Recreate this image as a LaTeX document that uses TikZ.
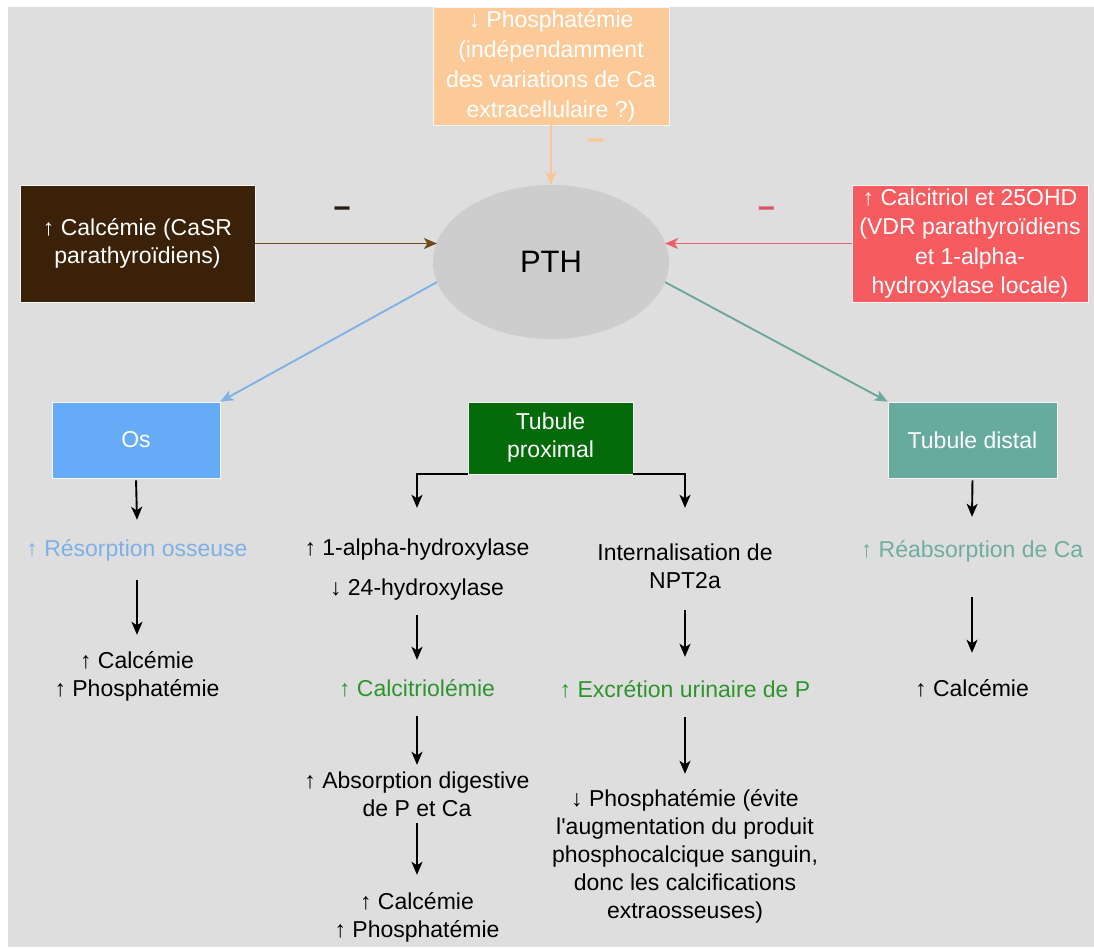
\documentclass[tikz,border=0pt]{standalone}
\usepackage{fontspec}
\setmainfont{Liberation Sans}
\usetikzlibrary{arrows.meta,shapes.geometric}
\definecolor{bg}{HTML}{DEDEDE}
\definecolor{pthfill}{HTML}{CDCDCD}
\definecolor{brownfill}{HTML}{3A2108}
\definecolor{brownline}{HTML}{6E4A1C}
\definecolor{minusdark}{HTML}{2A1A0A}
\definecolor{redfill}{HTML}{F65C5F}
\definecolor{redline}{HTML}{F0626A}
\definecolor{redminus}{HTML}{D9536A}
\definecolor{orangefill}{HTML}{FCCA98}
\definecolor{orangeline}{HTML}{F8C794}
\definecolor{osfill}{HTML}{66ABF8}
\definecolor{blueline}{HTML}{7FB3E6}
\definecolor{bluetext}{HTML}{7DB1E6}
\definecolor{proxfill}{HTML}{056B0A}
\definecolor{greentext}{HTML}{2E952E}
\definecolor{distfill}{HTML}{67AB9F}
\definecolor{tealline}{HTML}{6AA89C}
\definecolor{tealtext}{HTML}{6FAE9F}
\begin{document}
\begin{tikzpicture}[x=1pt,y=-1pt,
  every node/.style={font=\fontsize{23}{28}\selectfont, align=center, inner sep=0pt},
  box/.style={draw=white!92!gray, line width=0.8pt, text=white},
  lbl/.style={text=black},
  minus/.style={font=\fontsize{30}{30}\selectfont\bfseries},
  arr/.style={line width=1.9pt, -{Stealth[length=13pt,width=11pt,inset=3.5pt]}}]

% canvas
\fill[white] (0,0) rectangle (1094,947);
\fill[bg] (8,7) rectangle (1094,947);
\useasboundingbox (0,0) rectangle (1094,947);

% central hormone and its regulators
\node[ellipse, fill=pthfill, minimum width=236pt, minimum height=154pt,
      font=\fontsize{31}{36}\selectfont] (pth) at (551,262) {PTH};
\node[box, fill=orangefill, minimum width=236pt, minimum height=118pt,
      font=\fontsize{23}{30}\selectfont] (phos) at (551,66)
  {↓ Phosphatémie\\(indépendamment\\des variations de Ca\\extracellulaire ?)};
\node[box, fill=brownfill, minimum width=235pt, minimum height=117pt] (hyca) at (137.5,243.5)
  {↑ Calcémie (CaSR\\parathyroïdiens)};
\node[box, fill=redfill, minimum width=236pt, minimum height=117pt,
      font=\fontsize{23}{29.5}\selectfont] (calr) at (970,243.5)
  {↑ Calcitriol et 25OHD\\(VDR parathyroïdiens\\et 1-alpha-\\hydroxylase locale)};

% target organs
\node[box, fill=osfill, minimum width=168pt, minimum height=76pt] (os) at (136,440) {Os};
\node[box, fill=proxfill, minimum width=165pt, minimum height=72pt] (prox) at (550.5,438) {Tubule\\proximal};
\node[box, fill=distfill, minimum width=169pt, minimum height=76pt] (dist) at (972.5,440) {Tubule distal};

% negative feedback onto PTH
\draw[arr, color=orangeline] (phos.south) --
  node[minus, xshift=45pt, yshift=10pt, text=orangeline] (m1) {−} (pth.north);
\draw[arr, color=brownline] (hyca.east) --
  node[minus, xshift=-4pt, yshift=31pt, text=minusdark] (m2) {−} (hyca.east -| pth.170);
\draw[arr, color=redline] (calr.west) --
  node[minus, xshift=8pt, yshift=31pt, text=redminus] (m3) {−} (calr.west -| pth.10);

% PTH actions
\draw[arr, color=blueline] (pth.190) -- (os.north east);
\draw[arr, color=tealline] (pth.350) -- (dist.north west);

% bone
\node[lbl, minimum height=60pt, text=bluetext] (r1) at (137,550) {↑ Résorption osseuse};
\node[lbl, minimum height=82pt] (r2) at (137,676) {↑ Calcémie\\↑ Phosphatémie};
\draw[arr, shorten <=2pt] (os.south) -- (r1.north);
\draw[arr] (r1.south) -- (r2.north);

% proximal tubule, vitamin D branch
\node[lbl, minimum height=124pt] (p1) at (417,570) {↑ 1-alpha-hydroxylase\\[12pt]↓ 24-hydroxylase};
\node[lbl, minimum height=56pt, text=greentext] (p2) at (417,688) {↑ Calcitriolémie};
\node[lbl, minimum height=58pt] (p3) at (417,794) {↑ Absorption digestive\\de P et Ca};
\node[lbl, minimum height=84pt] (p4) at (417,917) {↑ Calcémie\\↑ Phosphatémie};
\draw[arr] (prox.south west) -| (p1.north);
\draw[arr, shorten <=-17pt] (p1.south) -- (p2.north);
\draw[arr] (p2.south) -- (p3.north);
\draw[arr] (p3.south) -- (p4.north);

% proximal tubule, phosphate branch
\node[lbl, minimum height=116pt] (q1) at (685,566) {Internalisation de\\NPT2a};
\node[lbl, minimum height=64pt, text=greentext] (q2) at (685,689) {↑ Excrétion urinaire de P};
\node[lbl, minimum height=164pt] (q3) at (685,856)
  {↓ Phosphatémie (évite\\l\textquotesingle augmentation du produit\\phosphocalcique sanguin,\\donc les calcifications\\extraosseuses)};
\draw[arr] (prox.south east) -| (q1.north);
\draw[arr, shorten <=-14pt] (q1.south) -- (q2.north);
\draw[arr, shorten <=-4pt] (q2.south) -- (q3.north);

% distal tubule
\node[lbl, minimum height=68pt, text=tealtext] (d1) at (972,551) {↑ Réabsorption de Ca};
\node[lbl, minimum height=70pt] (d2) at (972,688) {↑ Calcémie};
\draw[arr, shorten <=2pt] (dist.south) -- (d1.north);
\draw[arr, shorten <=12pt] (d1.south) -- (d2.north);
\end{tikzpicture}
\end{document}
